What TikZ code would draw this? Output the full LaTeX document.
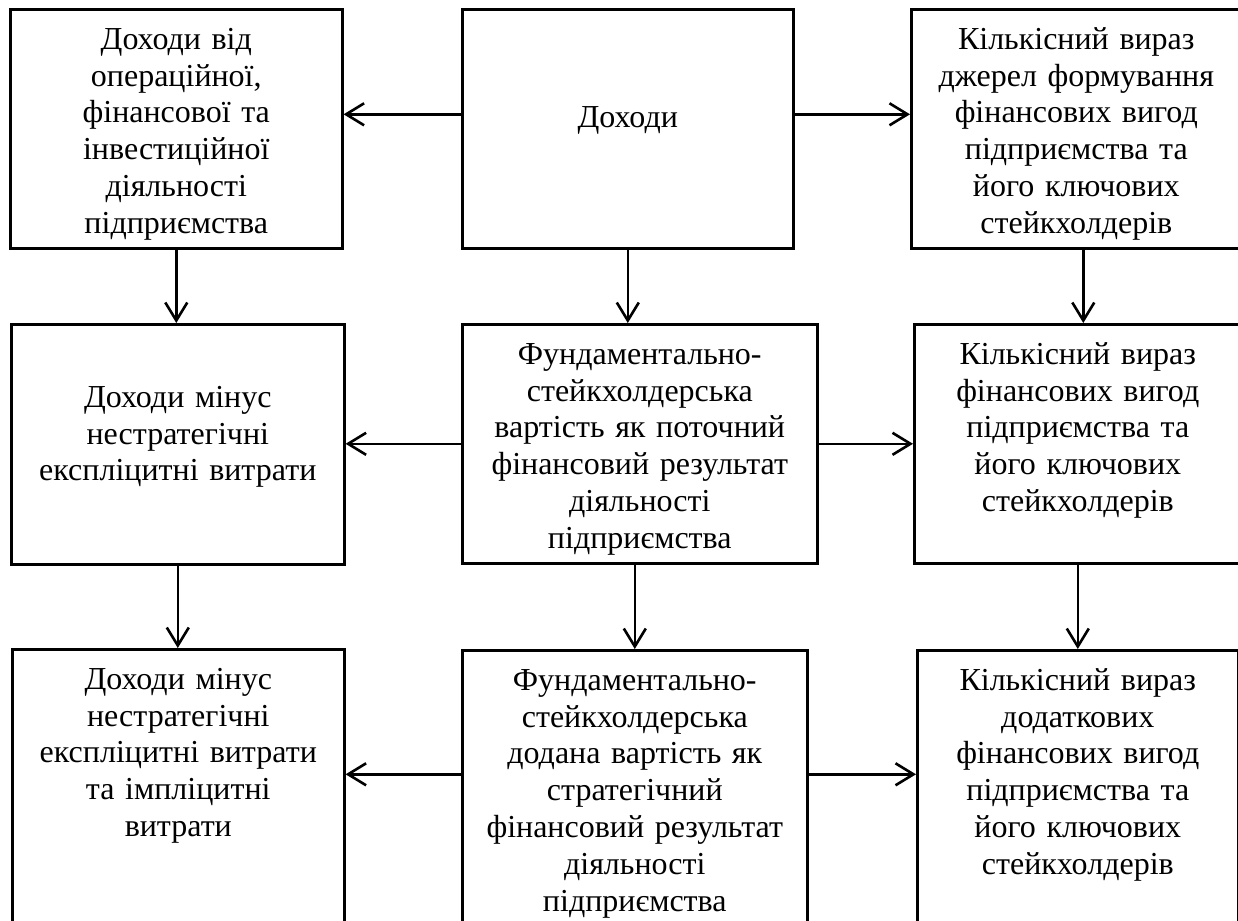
\documentclass[tikz,border=0pt]{standalone}
\usepackage{fontspec}
\setmainfont{Liberation Serif}
\usetikzlibrary{arrows.meta}

\begin{document}
\begin{tikzpicture}[x=.5pt,y=-.5pt,>={Straight Barb[length=9pt,width=11pt]},
  blok/.style={draw,line width=1.3pt,anchor=north west,inner sep=0pt,align=center,text height=20pt,font=\fontsize{16}{18.4}\selectfont},
  arr/.style={->,line width=1.3pt}]
\useasboundingbox (0,0) rectangle (1238,921);
\clip (0,0) rectangle (1238,921);
\node[blok,text width=166pt,text depth=99.5pt] (dial) at (9,8) {Доходи від\\операційної,\\фінансової та\\інвестиційної\\діяльності\\підприємства};
\node[blok,text width=165.5pt,text height=59pt,text depth=60.5pt] (doh) at (461,8) {Доходи};
\node[blok,text width=165pt,text depth=99.5pt] (dzh) at (910,8) {Кількісний вираз\\джерел формування\\фінансових вигод\\підприємства та\\його ключових\\стейкхолдерів};
\node[blok,text width=166.5pt,text height=41.5pt,text depth=78.5pt] (min1) at (10,323) {Доходи мінус\\нестратегічні\\експліцитні витрати};
\node[blok,text width=177.5pt,text depth=99.5pt] (fsv) at (461,323) {Фундаментально-\\стейкхолдерська\\вартість як поточний\\фінансовий результат\\діяльності\\підприємства};
\node[blok,text width=163.5pt,text depth=99.5pt] (vyg) at (913,323) {Кількісний вираз\\фінансових вигод\\підприємства та\\його ключових\\стейкхолдерів};
\node[blok,text width=166pt,text depth=130pt] (min2) at (11,648) {Доходи мінус\\нестратегічні\\експліцитні витрати\\та імпліцитні\\витрати};
\node[blok,text width=172.5pt,text depth=130pt] (fsdv) at (461,649) {Фундаментально-\\стейкхолдерська\\додана вартість як\\стратегічний\\фінансовий результат\\діяльності\\підприємства};
\node[blok,text width=160.5pt,text depth=130pt] (dod) at (916,649) {Кількісний вираз\\додаткових\\фінансових вигод\\підприємства та\\його ключових\\стейкхолдерів};
\draw[arr] ([yshift=7.25pt]doh.west) -- ([yshift=7.25pt]doh.west -| dial.east);
\draw[arr] ([yshift=7.25pt]doh.east) -- ([yshift=7.25pt]doh.east -| dzh.west);
\draw[arr] (fsv.west) -- (fsv.west -| min1.east);
\draw[arr] (fsv.east) -- (fsv.east -| vyg.west);
\draw[arr] ([yshift=13pt]fsdv.west) -- ([yshift=13pt]fsdv.west -| min2.east);
\draw[arr] ([yshift=13pt]fsdv.east) -- ([yshift=13pt]fsdv.east -| dod.west);
\draw[arr] (dial.south) -- (dial.south |- min1.north);
\draw[arr] (doh.south) -- (doh.south |- fsv.north);
\draw[arr] ([xshift=3.5pt]dzh.south) -- ([xshift=3.5pt]dzh.south |- vyg.north);
\draw[arr] (min1.south) -- (min1.south |- min2.north);
\draw[arr] (fsdv.north |- fsv.south) -- (fsdv.north);
\draw[arr] (vyg.south) -- (vyg.south |- dod.north);
\end{tikzpicture}
\end{document}
